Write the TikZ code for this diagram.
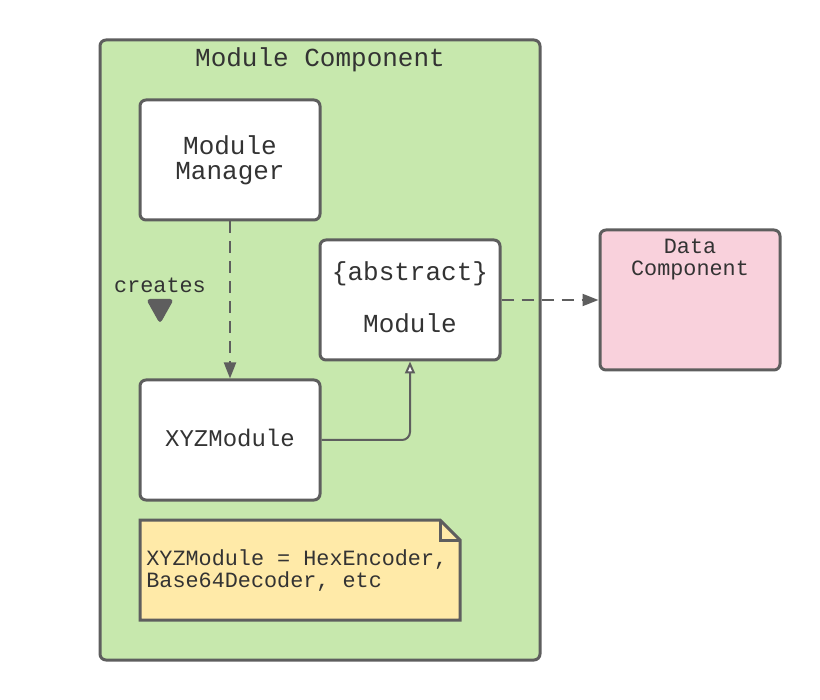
\documentclass[tikz,border=0pt]{standalone}
\usepackage{fontspec}
\setmonofont{Liberation Mono}
\usetikzlibrary{arrows.meta}
\definecolor{linegray}{HTML}{5E5E5E}
\definecolor{textgray}{HTML}{333333}
\definecolor{compgreen}{HTML}{C7E8AD}
\definecolor{datapink}{HTML}{F9D1DC}
\definecolor{noteyellow}{HTML}{FFEAA8}

\begin{document}
\begin{tikzpicture}[x=0.5pt,y=-0.5pt,
  bigtext/.style={font=\ttfamily\fontsize{13}{12.5}\selectfont, text=textgray},
  smalltext/.style={font=\ttfamily\fontsize{10.9}{11}\selectfont, text=textgray},
  box/.style={draw=linegray, line width=1.5pt, rounded corners=3pt, fill=white,
              minimum width=90pt, minimum height=60pt, align=center, bigtext},
  dasharrow/.style={draw=linegray, line width=1pt, dash pattern=on 6pt off 4pt,
                    -{Triangle[width=6pt,length=8pt]}},
  inherit/.style={draw=linegray, line width=1pt, rounded corners=4pt,
                  -{Triangle[open,width=5pt,length=6pt,fill=white]}}]
  \useasboundingbox (0,0) rectangle (820,700);
  % container
  \node[draw=linegray, line width=1.5pt, rounded corners=3pt, fill=compgreen,
        minimum width=220pt, minimum height=310pt] (modcomp) at (320,350) {};
  \node[bigtext] (modtitle) at (320,60) {Module Component};
  % classes
  \node[box] (manager) at (230,160) {Module\\Manager};
  \node[box] (abstract) at (410,300) {\{abstract\}\\[13.5pt]Module\vphantom{\{}};
  \node[box, font=\ttfamily\fontsize{12}{12}\selectfont] (xyz) at (230,440) {XYZModule\vphantom{g}};
  \node[box, fill=datapink, minimum height=70pt] (data) at (690,300) {};
  \node[smalltext, align=center, anchor=north] (datatext) at (690,232) {Data\\Component};
  % note
  \draw[draw=linegray, line width=1.5pt, fill=noteyellow]
    (140,520) -- (440,520) -- (460,540) -- (460,620) -- (140,620) -- cycle;
  \draw[draw=linegray, line width=1.5pt] (440,520) -- (440,540) -- (460,540);
  \node[smalltext, align=left, anchor=west, inner sep=0pt] (note) at (146,571)
    {XYZModule = HexEncoder,\\Base64Decoder, etc};
  % connectors
  \draw[dasharrow] (manager.south) -- (xyz.north);
  \node[smalltext] (creates) at (160,285) {creates};
  \fill[linegray, rounded corners=2pt] (146,299) -- (174,299) -- (160,324) -- cycle;
  \draw[inherit] (xyz.east) -| (abstract.south);
  \draw[dasharrow] (abstract.east) -- (data.west);
\end{tikzpicture}
\end{document}
